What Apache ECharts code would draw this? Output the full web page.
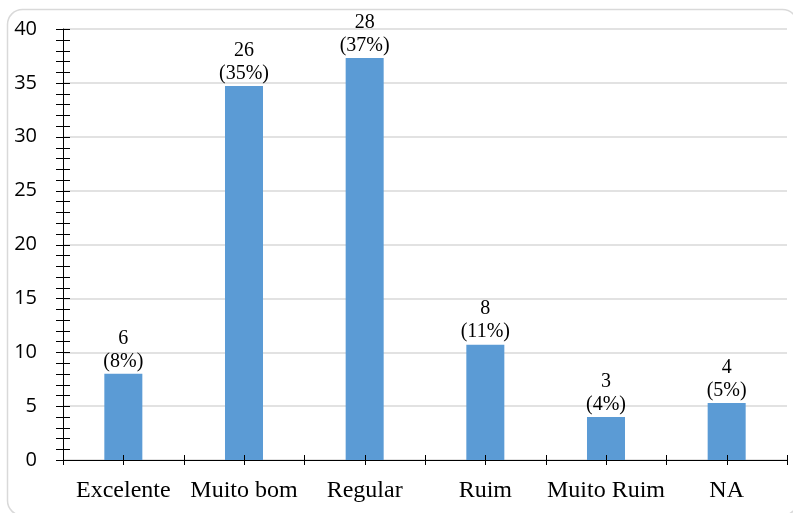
<!DOCTYPE html>
<html>
<head>
<meta charset="utf-8">
<script src="https://cdn.jsdelivr.net/npm/echarts@6/dist/echarts.min.js"></script>
<style>
html,body{margin:0;padding:0;background:#fff;}
#chart{width:793px;height:513px;}
</style>
</head>
<body>
<div id="chart"></div>
<script>
const categories = ['Excelente', 'Muito bom', 'Regular', 'Ruim', 'Muito Ruim', 'NA'];
const counts = [6, 26, 28, 8, 3, 4];
const shares = [8.0, 34.7, 37.3, 10.7, 4.0, 5.3];
const pctLabels = [8, 35, 37, 11, 4, 5];
const yTicks = [0, 5, 10, 15, 20, 25, 30, 35, 40];

const SERIF = 'Liberation Serif';
const SANS = 'Open Sans';

// minor tick values on the y axis (every unit between the labelled ticks)
const yMinorTicks = [];
for (let v = yTicks[0]; v <= yTicks[yTicks.length - 1]; v++) yMinorTicks.push([0, v]);

const chart = echarts.init(document.getElementById('chart'), null, {renderer: 'canvas'});

// x-axis ticks at category centres and boundaries (crossing the axis line) + category label
function renderXTicks(params, api) {
  const idx = api.value(0);
  const c = api.coord([idx, 0]);
  const w = api.size([1, 0])[0];
  const xs = [c[0], c[0] - w / 2];
  if (params.dataIndex === categories.length - 1) xs.push(c[0] + w / 2);
  const children = xs.map((x) => ({
    type: 'line',
    shape: {x1: Math.round(x) + 0.5, y1: c[1] - 5, x2: Math.round(x) + 0.5, y2: c[1] + 5},
    style: {stroke: '#000', lineWidth: 1}
  }));
  children.push({
    type: 'text',
    x: c[0], y: c[1] + 31,
    style: {
      text: categories[idx], fill: '#000',
      fontFamily: SERIF, fontSize: 24,
      align: 'center', verticalAlign: 'middle'
    }
  });
  return {type: 'group', children: children};
}
// y-axis ticks crossing the axis line
function renderYTicks(params, api) {
  const c = api.coord([0, api.value(1)]);
  const x0 = Math.round(c[0] - api.size([1, 0])[0] / 2);
  const y = Math.round(c[1]) + 0.5;
  return {
    type: 'line',
    shape: {x1: x0 - 7, y1: y, x2: x0 + 7, y2: y},
    style: {stroke: '#000', lineWidth: 1}
  };
}

chart.setOption({
  animation: false,
  graphic: [{
    type: 'rect', silent: true, z: -10,
    shape: {x: 7.5, y: 9.5, width: 790, height: 506, r: 15},
    style: {fill: 'none', stroke: '#d9d9d9', lineWidth: 1.5}
  }],
  grid: {left: 63, right: 6, top: 29, bottom: 53},
  xAxis: {
    type: 'category', data: categories, boundaryGap: true,
    axisLine: {show: true, lineStyle: {color: '#000', width: 1}},
    axisTick: {show: false},
    axisLabel: {show: false}
  },
  yAxis: {
    type: 'value', min: 0, max: 40, interval: 5,
    axisLine: {show: true, lineStyle: {color: '#000', width: 1}},
    axisTick: {show: false},
    axisLabel: {margin: 26, color: '#000', fontFamily: SANS, fontSize: 20},
    splitLine: {show: true, lineStyle: {color: '#d9d9d9', width: 1.5}}
  },
  series: [{
    type: 'bar',
    data: shares, barWidth: '31.5%',
    itemStyle: {color: '#5b9bd5'},
    label: {
      show: true, position: 'top', distance: 1, color: '#000',
      fontFamily: SERIF, fontSize: 20, lineHeight: 23,
      formatter: (p) => counts[p.dataIndex] + '\n(' + pctLabels[p.dataIndex] + '%)'
    }
  }, {
    type: 'custom', z: 5, silent: true, clip: false,
    data: categories.map((c, i) => [i, 0]),
    renderItem: renderXTicks
  }, {
    type: 'custom', z: 5, silent: true, clip: false,
    data: yMinorTicks,
    renderItem: renderYTicks
  }]
});
</script>
</body>
</html>
